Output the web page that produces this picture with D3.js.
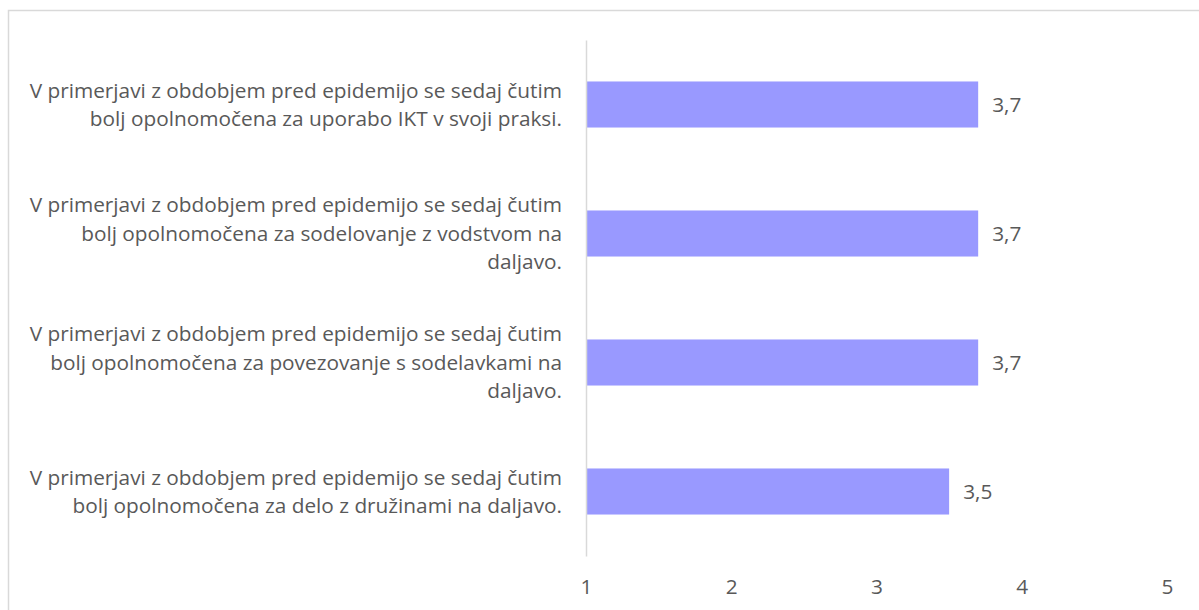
<!DOCTYPE html>
<html>
<head>
<meta charset="utf-8">
<script src="https://cdn.jsdelivr.net/npm/d3@7"></script>
<style>
  body { margin: 0; background: #fff; }
  svg { display: block; }
</style>
</head>
<body>
<svg class="canvas" width="1199" height="610"></svg>
<script>
// category labels, already broken into lines as in the original chart
const categories = [
  "V primerjavi z obdobjem pred epidemijo se sedaj čutim bolj opolnomočena za uporabo IKT v svoji praksi.",
  "V primerjavi z obdobjem pred epidemijo se sedaj čutim bolj opolnomočena za sodelovanje z vodstvom na daljavo.",
  "V primerjavi z obdobjem pred epidemijo se sedaj čutim bolj opolnomočena za povezovanje s sodelavkami na daljavo.",
  "V primerjavi z obdobjem pred epidemijo se sedaj čutim bolj opolnomočena za delo z družinami na daljavo."
];
const labelLines = [
  ["V primerjavi z obdobjem pred epidemijo se sedaj čutim", "bolj opolnomočena za uporabo IKT v svoji praksi."],
  ["V primerjavi z obdobjem pred epidemijo se sedaj čutim", "bolj opolnomočena za sodelovanje z vodstvom na", "daljavo."],
  ["V primerjavi z obdobjem pred epidemijo se sedaj čutim", "bolj opolnomočena za povezovanje s sodelavkami na", "daljavo."],
  ["V primerjavi z obdobjem pred epidemijo se sedaj čutim", "bolj opolnomočena za delo z družinami na daljavo."]
];
const values = [3.7, 3.7, 3.7, 3.5];
const xTicks = [1, 2, 3, 4, 5];

const fontFamily = "'Open Sans', sans-serif";
const fontSize = 20.8;
const textColor = "#595959";
const svg = d3.select(".canvas");

// frame of the chart area
svg.append("rect")
  .attr("x", 8.5)
  .attr("y", 10.5)
  .attr("width", 1250)
  .attr("height", 700)
  .attr("fill", "none")
  .attr("stroke", "#d9d9d9")
  .attr("stroke-width", 1.5);

const x = d3.scaleLinear().domain([1, 5]).range([586, 1167]);
const y = d3.scaleBand()
  .domain(categories)
  .range([40, 556])
  .paddingInner(0.643)
  .paddingOuter(0.3215);

// bars
svg.append("g")
  .selectAll("rect")
  .data(categories)
  .enter()
  .append("rect")
  .attr("x", x(1))
  .attr("y", d => y(d))
  .attr("width", (d, i) => x(values[i]) - x(1))
  .attr("height", y.bandwidth())
  .attr("fill", "#9999ff");

// vertical axis line
const yAxis = svg.append("g")
  .attr("transform", `translate(${x(1)},0)`)
  .call(d3.axisLeft(y).tickSize(0).tickFormat(""));
yAxis.select(".domain").attr("stroke", "#d9d9d9").attr("stroke-width", 1.5);

// category labels
const lineH = 28.5;
svg.append("g")
  .selectAll("text")
  .data(categories)
  .enter()
  .append("text")
  .attr("text-anchor", "end")
  .attr("fill", textColor)
  .style("font-family", fontFamily)
  .style("font-size", fontSize + "px")
  .each(function (d, i) {
    const lines = labelLines[i];
    const cy = y(d) + y.bandwidth() / 2;
    const top = cy - (lines.length - 1) * lineH / 2;
    d3.select(this)
      .selectAll("tspan")
      .data(lines)
      .enter()
      .append("tspan")
      .attr("x", 562)
      .attr("y", (l, j) => top + j * lineH)
      .attr("dy", "0.35em")
      .text(l => l);
  });

// value labels
svg.append("g")
  .selectAll("text")
  .data(categories)
  .enter()
  .append("text")
  .attr("x", (d, i) => x(values[i]) + 14)
  .attr("y", d => y(d) + y.bandwidth() / 2)
  .attr("dy", "0.35em")
  .attr("fill", textColor)
  .style("font-family", fontFamily)
  .style("font-size", fontSize + "px")
  .text((d, i) => String(values[i]).replace(".", ","));

// bottom axis labels
const xAxis = svg.append("g")
  .attr("transform", "translate(0,576)")
  .call(d3.axisBottom(x).tickValues(xTicks).tickSize(0).tickPadding(0).tickFormat(d3.format("d")));
xAxis.select(".domain").remove();
xAxis.selectAll("text")
  .attr("fill", textColor)
  .attr("dy", "0.35em")
  .attr("y", 11)
  .style("font-family", fontFamily)
  .style("font-size", fontSize + "px");
</script>
</body>
</html>
